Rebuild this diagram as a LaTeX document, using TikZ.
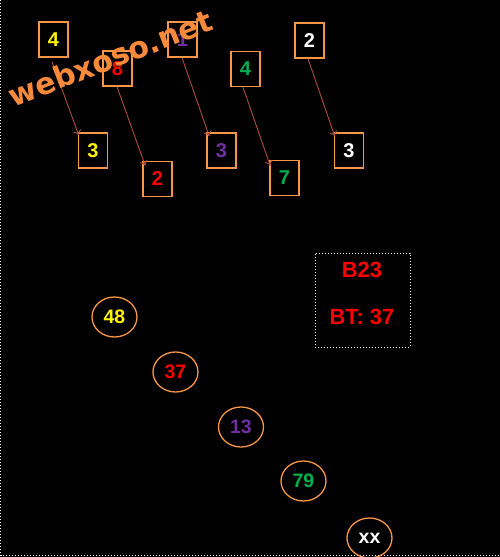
\documentclass[tikz,border=0pt]{standalone}
\usepackage{fontspec}
\setmainfont{Liberation Sans}
\newfontfamily\wmfont{DejaVu Sans Bold}
\usetikzlibrary{arrows.meta,shapes.geometric}
\definecolor{boxorange}{HTML}{F79646}
\definecolor{arrowred}{HTML}{B04A3E}
\definecolor{wmorange}{HTML}{F98A3C}
\definecolor{ypur}{HTML}{7030A0}
\definecolor{ygrn}{HTML}{00B050}
\tikzset{
  numbox/.style={draw=boxorange, line width=1.5pt, minimum width=29pt, minimum height=35pt, inner sep=0pt, font=\bfseries\fontsize{20}{20}\selectfont},
  numcirc/.style={ellipse, draw=boxorange, line width=1.3pt, minimum width=45pt, minimum height=40pt, inner sep=0pt, font=\bfseries\fontsize{19.5}{20}\selectfont},
  link/.style={draw=arrowred, line width=0.9pt, -{To[length=5pt,width=8pt,line width=0.9pt]}},
  infotext/.style={text=red, font=\bfseries\fontsize{22}{22}\selectfont}
}
\begin{document}
\begin{tikzpicture}[x=1pt,y=-1pt]
\fill[black] (0,0) rectangle (500,557);
\useasboundingbox (0,0) rectangle (500,557);
\draw[white, line width=1pt, dotted] (0.5,0) -- (0.5,555.5) -- (500,555.5);
% top row
\node[numbox, text=yellow] (t1) at (53.5,39.5) {4};
\node[numbox, text=red] (t2) at (117.5,68.5) {8};
\node[numbox, text=ypur] (t3) at (182.5,39.5) {1};
\node[numbox, text=ygrn] (t4) at (245.5,69) {4};
\node[numbox, text=white] (t5) at (309.5,40.5) {2};
% bottom row
\node[numbox, text=yellow] (b1) at (93,150.5) {3};
\node[numbox, text=red] (b2) at (157.5,179) {2};
\node[numbox, text=ypur] (b3) at (221.5,150.5) {3};
\node[numbox, text=ygrn] (b4) at (284.5,178) {7};
\node[numbox, text=white] (b5) at (349,150.5) {3};
% arrows
\draw[link] ([xshift=-1.5pt,yshift=-4pt]t1.south) -- ([xshift=1pt,yshift=-3pt]b1.north west);
\draw[link] ([xshift=-0.5pt]t2.south) -- ([xshift=3pt,yshift=-5pt]b2.north west);
\draw[link] ([xshift=-0.5pt]t3.south) -- ([xshift=3pt,yshift=-4pt]b3.north west);
\draw[link] ([xshift=-2.5pt]t4.south) -- ([xshift=1pt,yshift=-6pt]b4.north west);
\draw[link] ([xshift=-1.5pt]t5.south) -- ([xshift=1pt,yshift=-4pt]b5.north west);
% watermark
\node[text=wmorange, rotate=21, font=\wmfont\fontsize{30}{30}\selectfont, inner sep=0pt] (wm) at (110,58) {webxoso.net};
% info box
\node[draw=white, dotted, line width=1pt, minimum width=95pt, minimum height=94pt, inner sep=0pt] (info) at (362.5,300) {};
\node[infotext] (code) at (362,270) {B23};
\node[infotext] (bt) at (362,317) {BT: 37};
% circles
\node[numcirc, text=yellow] (c1) at (114.5,317) {48};
\node[numcirc, text=red] (c2) at (175.5,372) {37};
\node[numcirc, text=ypur] (c3) at (241,427) {13};
\node[numcirc, text=ygrn] (c4) at (303.5,481) {79};
\node[numcirc, text=white] (c5) at (369.5,538) {xx};
\end{tikzpicture}
\end{document}
